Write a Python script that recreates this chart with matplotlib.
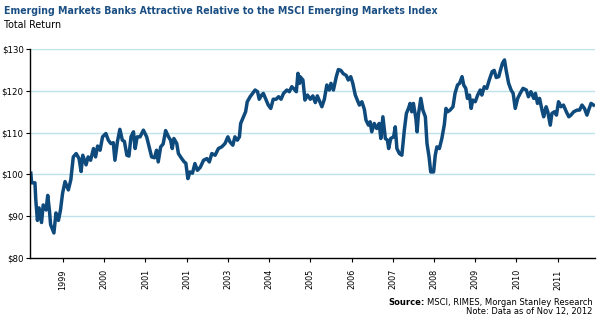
import numpy as np
import matplotlib
matplotlib.use("Agg")
import matplotlib.pyplot as plt
from matplotlib import font_manager as fm

# fractional-year position along the x axis, and index level in $
years = [
    1998.22, 1998.24, 1998.32, 1998.34, 1998.38, 1998.42, 1998.48, 1998.52, 1998.59, 1998.63,
    1998.67, 1998.70, 1998.78, 1998.83, 1998.89, 1998.94, 1998.99, 1999.05, 1999.13, 1999.19,
    1999.25, 1999.32, 1999.39, 1999.44, 1999.48, 1999.56, 1999.61, 1999.67, 1999.74, 1999.79,
    1999.84, 1999.90, 1999.96, 2000.04, 2000.10, 2000.16, 2000.22, 2000.26, 2000.32, 2000.38,
    2000.44, 2000.49, 2000.55, 2000.60, 2000.65, 2000.71, 2000.75, 2000.80, 2000.87, 2000.95,
    2001.03, 2001.09, 2001.15, 2001.22, 2001.27, 2001.31, 2001.37, 2001.43, 2001.49, 2001.56,
    2001.61, 2001.65, 2001.69, 2001.76, 2001.80, 2001.88, 2001.94, 2001.98, 2002.03, 2002.08,
    2002.14, 2002.20, 2002.26, 2002.33, 2002.41, 2002.49, 2002.55, 2002.61, 2002.69, 2002.77,
    2002.85, 2002.93, 2003.00, 2003.05, 2003.12, 2003.17, 2003.23, 2003.28, 2003.31, 2003.38,
    2003.43, 2003.47, 2003.54, 2003.60, 2003.66, 2003.72, 2003.76, 2003.82, 2003.86, 2003.93,
    2003.98, 2004.04, 2004.10, 2004.17, 2004.23, 2004.29, 2004.35, 2004.43, 2004.49, 2004.55,
    2004.61, 2004.66, 2004.70, 2004.74, 2004.75, 2004.82, 2004.87, 2004.93, 2005.00, 2005.06,
    2005.12, 2005.17, 2005.22, 2005.28, 2005.34, 2005.40, 2005.46, 2005.50, 2005.56, 2005.63,
    2005.68, 2005.74, 2005.80, 2005.87, 2005.92, 2005.98, 2006.03, 2006.09, 2006.14, 2006.19,
    2006.25, 2006.31, 2006.35, 2006.41, 2006.45, 2006.49, 2006.55, 2006.61, 2006.67, 2006.71,
    2006.76, 2006.82, 2006.87, 2006.90, 2006.95, 2007.02, 2007.06, 2007.10, 2007.16, 2007.22,
    2007.28, 2007.33, 2007.38, 2007.42, 2007.46, 2007.50, 2007.56, 2007.59, 2007.62, 2007.68,
    2007.73, 2007.79, 2007.83, 2007.88, 2007.92, 2007.99, 2008.03, 2008.07, 2008.13, 2008.19,
    2008.25, 2008.29, 2008.33, 2008.39, 2008.46, 2008.51, 2008.57, 2008.62, 2008.68, 2008.72,
    2008.77, 2008.81, 2008.86, 2008.90, 2008.94, 2009.00, 2009.06, 2009.12, 2009.16, 2009.22,
    2009.28, 2009.34, 2009.41, 2009.46, 2009.51, 2009.57, 2009.61, 2009.66, 2009.71, 2009.75,
    2009.81, 2009.87, 2009.92, 2009.97, 2010.03, 2010.09, 2010.16, 2010.24, 2010.29, 2010.35,
    2010.42, 2010.46, 2010.51, 2010.56, 2010.62, 2010.66, 2010.72, 2010.76, 2010.82, 2010.86,
    2010.92, 2010.97, 2011.02, 2011.08, 2011.14, 2011.21, 2011.27, 2011.32, 2011.39, 2011.47,
    2011.53, 2011.59, 2011.65, 2011.71, 2011.75, 2011.81, 2011.87,
]
values = [
    100.3, 98.0, 98.0, 94.0, 89.0, 92.0, 88.5, 92.7, 91.5, 95.0,
    91.5, 88.0, 86.0, 90.8, 89.0, 91.5, 95.5, 98.3, 96.3, 98.7,
    104.2, 105.0, 103.8, 100.7, 104.6, 102.3, 104.2, 103.4, 106.2, 104.2,
    106.8, 105.8, 109.0, 109.8, 108.2, 107.4, 107.6, 103.4, 107.8, 110.8,
    108.2, 107.9, 104.6, 104.4, 109.0, 110.2, 106.2, 109.0, 109.0, 110.6,
    109.0, 106.6, 104.2, 104.0, 105.8, 103.0, 106.6, 107.3, 110.5, 109.0,
    108.2, 106.2, 108.6, 107.4, 105.0, 103.8, 103.0, 102.7, 99.0, 100.6,
    100.3, 102.6, 101.0, 101.7, 103.4, 103.8, 103.0, 105.0, 104.6, 106.2,
    106.6, 107.4, 109.0, 107.8, 107.0, 109.0, 108.2, 109.0, 112.2, 113.8,
    115.0, 117.4, 118.6, 119.4, 120.2, 119.8, 118.0, 119.0, 119.4, 117.8,
    116.6, 115.8, 118.0, 118.0, 118.6, 118.0, 119.4, 120.2, 119.8, 121.0,
    120.4, 119.8, 124.2, 121.8, 123.4, 122.6, 117.8, 119.0, 118.0, 118.8,
    117.2, 118.8, 117.6, 116.2, 118.0, 121.4, 120.2, 121.8, 120.2, 123.4,
    125.1, 124.9, 124.1, 123.7, 122.6, 123.4, 121.8, 119.0, 117.8, 116.6,
    117.4, 115.6, 113.0, 111.8, 112.6, 110.2, 112.2, 111.0, 112.2, 108.6,
    113.8, 108.6, 108.2, 106.2, 108.6, 109.0, 111.4, 106.2, 105.0, 104.6,
    110.6, 114.6, 115.8, 117.0, 115.0, 117.0, 113.4, 110.2, 114.2, 118.2,
    115.4, 113.8, 107.4, 104.2, 100.6, 100.6, 104.6, 106.6, 106.2, 108.6,
    111.9, 115.8, 115.0, 115.4, 116.2, 119.4, 121.4, 121.8, 123.4, 121.4,
    120.6, 118.2, 119.0, 115.8, 117.8, 117.4, 119.0, 120.2, 119.0, 121.0,
    120.6, 122.6, 124.6, 124.9, 123.2, 123.4, 124.9, 126.6, 127.4, 124.9,
    121.8, 120.2, 119.4, 115.8, 118.2, 119.4, 120.6, 120.2, 118.6, 119.8,
    118.2, 119.4, 117.0, 118.2, 115.4, 113.8, 116.2, 115.0, 111.8, 114.6,
    115.0, 114.2, 117.4, 116.2, 116.6, 115.0, 113.8, 114.2, 115.0, 115.4,
    115.4, 116.6, 115.8, 114.2, 115.4, 117.0, 116.6,
]

tick_pos = [1999, 2000, 2001, 2002, 2003, 2004, 2005, 2006, 2007, 2008, 2009, 2010, 2011]
tick_labels = ["1999", "2000", "2001", "2001", "2003", "2004", "2005", "2006",
               "2007", "2008", "2009", "2010", "2011"]
y_ticks = [80, 90, 100, 110, 120, 130]

# the original uses a condensed face; take one if it is installed
names = {f.name for f in fm.fontManager.ttflist}
if "Liberation Sans Narrow" in names:
    plt.rcParams["font.family"] = ["Liberation Sans Narrow", "DejaVu Sans"]
else:
    plt.rcParams["font.family"] = ["DejaVu Sans"]
    plt.rcParams["font.stretch"] = "condensed"

fig = plt.figure(figsize=(6, 3.25), dpi=100)
ax = fig.add_axes([0.05, 0.206, 0.942, 0.643])

ax.plot(years, values, color="#0f4a7d", lw=2.5, solid_joinstyle="round")

ax.set_xlim(1998.20, 2011.91)
ax.set_ylim(80, 130)
ax.set_yticks(y_ticks)
ax.set_yticklabels([f"${v}" for v in y_ticks], fontsize=6.8)
ax.set_xticks(tick_pos)
ax.set_xticklabels(tick_labels, rotation=90, fontsize=6.5)
ax.tick_params(axis="both", direction="out", length=3, width=0.8, color="black", pad=1.5)
ax.tick_params(axis="x", pad=5)

for v in y_ticks[1:]:
    ax.axhline(v, color="#bfe1ea", lw=1.0, zorder=0)

for s in ["top", "right"]:
    ax.spines[s].set_visible(False)
ax.spines["left"].set_linewidth(1.0)
ax.spines["bottom"].set_linewidth(1.0)

title = fig.text(0.007, 0.958, "Emerging Markets Banks Attractive Relative to the MSCI Emerging Markets Index",
                 fontsize=11, fontweight="bold", color="#1b4f83", va="baseline", ha="left")
sub = fig.text(0.007, 0.914, "Total Return", fontsize=8, color="black", va="baseline", ha="left")
src = fig.text(0.988, 0.062, "MSCI, RIMES, Morgan Stanley Research", fontsize=8,
               ha="right", va="baseline")
note = fig.text(0.988, 0.034, "Note: Data as of Nov 12, 2012", fontsize=8,
                ha="right", va="baseline")

# size texts to the widths they take in the original
fig.canvas.draw()
rend = fig.canvas.get_renderer()
for t, target in [(title, 432), (sub, 57), (src, 164), (note, 126)]:
    w = t.get_window_extent(rend).width
    t.set_fontsize(t.get_fontsize() * target / w)

fig.canvas.draw()
bb = src.get_window_extent(rend)
fig.text(bb.x0 / fig.bbox.width - 0.004, 0.062, "Source:", fontsize=src.get_fontsize(),
         fontweight="bold", ha="right", va="baseline")

fig.savefig("out.png", dpi=100)
